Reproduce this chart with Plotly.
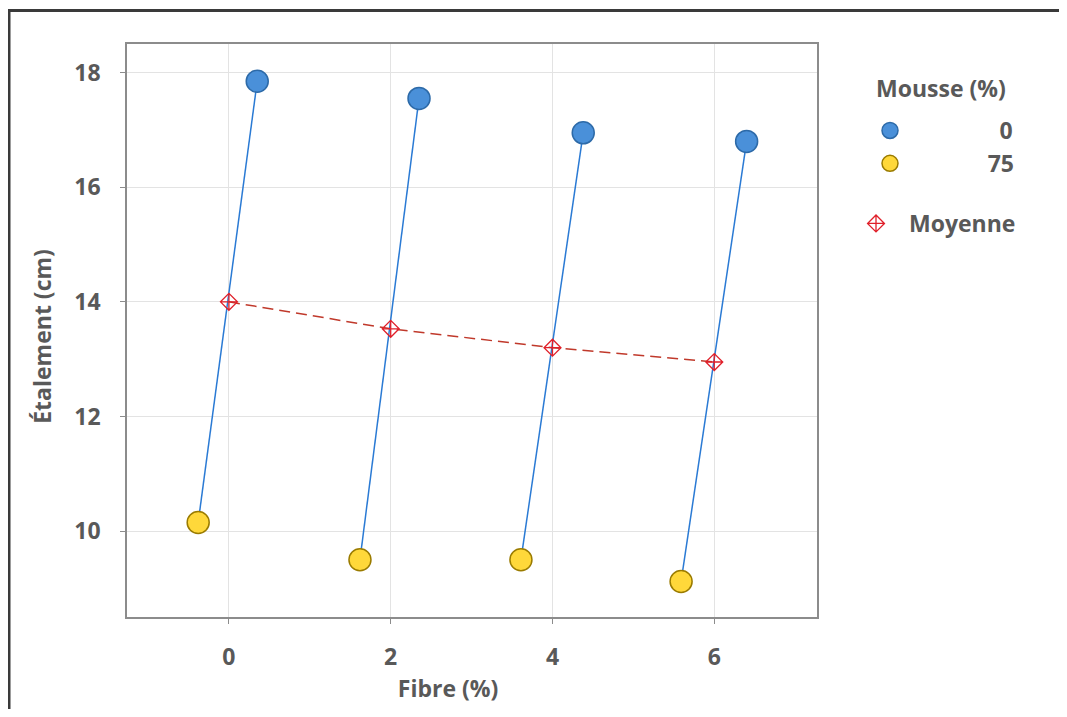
import plotly.graph_objects as go

# ---- data ----
fibre = [0, 2, 4, 6]
x_m0 = [0.35, 2.35, 4.38, 6.40]      # plotted (jittered) x, Mousse 0 %
y_m0 = [17.85, 17.55, 16.95, 16.80]
x_m75 = [-0.38, 1.62, 3.61, 5.59]    # plotted (jittered) x, Mousse 75 %
y_m75 = [10.15, 9.50, 9.50, 9.12]
y_mean = [14.00, 13.53, 13.20, 12.95]
x_ticks = [0, 2, 4, 6]
y_ticks = [10, 12, 14, 16, 18]

FONT = "Open Sans"
TXT = "#595959"
FS = 23
NB = "\u00a0"
ZW = "\u200b"

# connecting lines (yellow -> blue for each fibre level)
lx, ly = [], []
for a, b, c, d in zip(x_m75, y_m75, x_m0, y_m0):
    lx += [a, c, None]
    ly += [b, d, None]

bold = dict(family=FONT, size=FS, color=TXT, weight="bold")

fig = go.Figure()
fig.add_trace(go.Scatter(x=lx, y=ly, mode="lines",
                         line=dict(color="#2a7ad4", width=1.5),
                         showlegend=False, hoverinfo="skip"))
fig.add_trace(go.Scatter(x=fibre, y=y_mean, mode="lines",
                         line=dict(color="#c0392b", width=1.5, dash="11px,6px"),
                         showlegend=False, hoverinfo="skip"))
fig.add_trace(go.Scatter(x=fibre, y=y_mean, mode="markers", name="Moyenne",
                         marker=dict(symbol="diamond-cross-open", size=13,
                                     color="#e0202a", line=dict(width=1.3)),
                         legend="legend2"))
fig.add_trace(go.Scatter(x=x_m0, y=y_m0, mode="markers",
                         name=NB * 15 + "0", legendgroup="a",
                         marker=dict(size=22, color="#4a90d9",
                                     line=dict(color="#2d6aa8", width=1.5)),
                         legend="legend"))
fig.add_trace(go.Scatter(x=x_m75, y=y_m75, mode="markers",
                         name=NB * 13 + "75", legendgroup="b",
                         marker=dict(size=22, color="#ffd83a",
                                     line=dict(color="#9a7b00", width=1.5)),
                         legend="legend"))

axis_common = dict(showline=True, mirror=True, linecolor="#8c8c8c", linewidth=1.5,
                   showgrid=True, gridcolor="#e3e3e3", gridwidth=1,
                   ticks="outside", ticklen=5, tickcolor="#8c8c8c", zeroline=False,
                   tickfont=bold, automargin=False)

W, H = 1051, 701
L, T = 119, 36
PW, PH = 690, 573

fig.update_layout(
    width=W, height=H,
    margin=dict(l=L, r=W - L - PW, t=T, b=H - T - PH),
    paper_bgcolor="white", plot_bgcolor="white",
    font=dict(family=FONT, color=TXT),
    xaxis=dict(axis_common, range=[-1.26, 7.27], tickvals=x_ticks,
               ticklabelstandoff=14,
               title=dict(text="Fibre (%)" + NB * 8 + ZW, standoff=8, font=bold)),
    yaxis=dict(axis_common, range=[8.5, 18.5], tickvals=y_ticks,
               ticklabelstandoff=15,
               title=dict(text="Étalement (cm)" + NB * 2 + ZW, standoff=16, font=bold)),
    legend=dict(x=(862 - L) / PW, y=(T + PH - 101) / PH, xanchor="left", yanchor="top",
                font=bold, tracegroupgap=0, traceorder="grouped",
                bgcolor="rgba(0,0,0,0)", itemsizing="trace"),
    legend2=dict(x=(835 - L) / PW, y=(T + PH - 194) / PH, xanchor="left", yanchor="top",
                 font=bold, bgcolor="rgba(0,0,0,0)", itemwidth=56),
    annotations=[dict(text="Mousse (%)", xref="paper", yref="paper",
                      x=(866 - L) / PW, y=(T + PH - 80) / PH,
                      xanchor="left", yanchor="middle", showarrow=False, font=bold)],
    shapes=[dict(type="rect", xref="paper", yref="paper",
                 x0=(1 - L) / PW, x1=1.6, y0=-0.4, y1=(T + PH - 2.5) / PH,
                 line=dict(color="#3a3a3a", width=3), layer="below")],
)

fig.write_html("out.html")
